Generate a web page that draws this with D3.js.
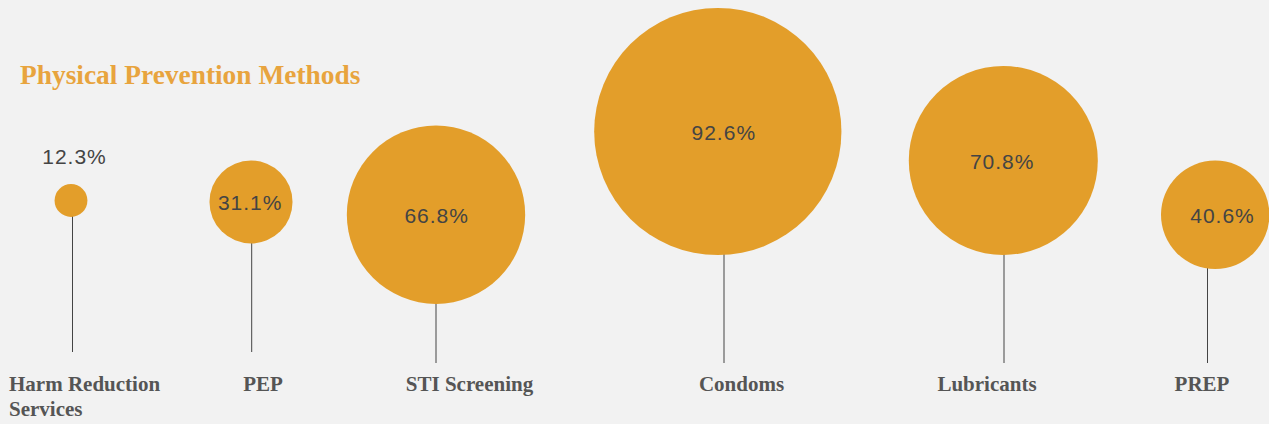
<!DOCTYPE html>
<html>
<head>
<meta charset="utf-8">
<script src="https://cdn.jsdelivr.net/npm/d3@7"></script>
<style>
  html, body { margin: 0; padding: 0; background: #f2f2f2; }
  svg { display: block; }
</style>
</head>
<body>
<svg id="chart" width="1269" height="424"></svg>
<script>
// ---- data ----
const title = "Physical Prevention Methods";
const categories = ["Harm Reduction Services", "PEP", "STI Screening", "Condoms", "Lubricants", "PREP"];
const labelLines = [["Harm Reduction", "Services"], ["PEP"], ["STI Screening"], ["Condoms"], ["Lubricants"], ["PREP"]];
const values = [12.3, 31.1, 66.8, 92.6, 70.8, 40.6];

// ---- layout (bubble placement) ----
const stemX   = [72.5, 251.7, 436.0, 724.0, 1004.0, 1207.5];
const bubbleX = [71.0, 251.0, 436.0, 717.8, 1003.3, 1215.2];
const bubbleY = [200.5, 202.0, 214.7, 131.5, 160.5, 214.8];
const valueX  = [74.5, 250.2, 436.7, 723.8, 1002.2, 1222.5];
const stemEnd = [352, 352, 363, 363, 363, 363];
const labelX  = [9, 263, 469.5, 741.5, 987, 1202];

const svg = d3.select("#chart");

const r = d3.scaleLinear().domain([0, 100]).range([0, 133.5]);
const sx = d3.scaleOrdinal(categories, stemX);
const bx = d3.scaleOrdinal(categories, bubbleX);
const by = d3.scaleOrdinal(categories, bubbleY);
const vx = d3.scaleOrdinal(categories, valueX);
const se = d3.scaleOrdinal(categories, stemEnd);
const lx = d3.scaleOrdinal(categories, labelX);

const data = categories.map((c, i) => ({ cat: c, value: values[i], lines: labelLines[i], i }));

svg.append("text")
  .attr("x", 20).attr("y", 84)
  .attr("font-family", "'Liberation Serif', 'Times New Roman', serif")
  .attr("font-weight", "bold")
  .attr("font-size", 27.4)
  .attr("fill", "#e8a43e")
  .text(title);

// stems
svg.append("g").selectAll("line").data(data).join("line")
  .attr("x1", d => sx(d.cat)).attr("x2", d => sx(d.cat))
  .attr("y1", d => by(d.cat))
  .attr("y2", d => se(d.cat))
  .attr("stroke", "#444").attr("stroke-width", 1);

// bubbles
svg.append("g").selectAll("circle").data(data).join("circle")
  .attr("cx", d => bx(d.cat)).attr("cy", d => by(d.cat))
  .attr("r", d => r(d.value))
  .attr("fill", "#e39e2a");

// value labels
const fmt = v => v.toFixed(1) + "%";
svg.append("g").selectAll("text").data(data).join("text")
  .attr("x", d => vx(d.cat))
  .attr("y", d => r(d.value) < 25 ? by(d.cat) - r(d.value) - 20 : by(d.cat) + 8)
  .attr("text-anchor", "middle")
  .attr("font-family", "'Liberation Sans', Arial, sans-serif")
  .attr("font-size", 21)
  .attr("letter-spacing", "1px")
  .attr("fill", "#444")
  .text(d => fmt(d.value));

// category labels
const lab = svg.append("g").selectAll("text").data(data).join("text")
  .attr("x", d => lx(d.cat))
  .attr("y", 391)
  .attr("text-anchor", d => d.lines.length > 1 ? "start" : "middle")
  .attr("font-family", "'Liberation Serif', 'Times New Roman', serif")
  .attr("font-weight", "bold")
  .attr("font-size", 21)
  .attr("fill", "#555");
lab.selectAll("tspan").data(d => d.lines.map(t => ({ t, x: lx(d.cat) }))).join("tspan")
  .attr("x", t => t.x)
  .attr("dy", (t, j) => j === 0 ? 0 : 25)
  .text(t => t.t);
</script>
</body>
</html>
